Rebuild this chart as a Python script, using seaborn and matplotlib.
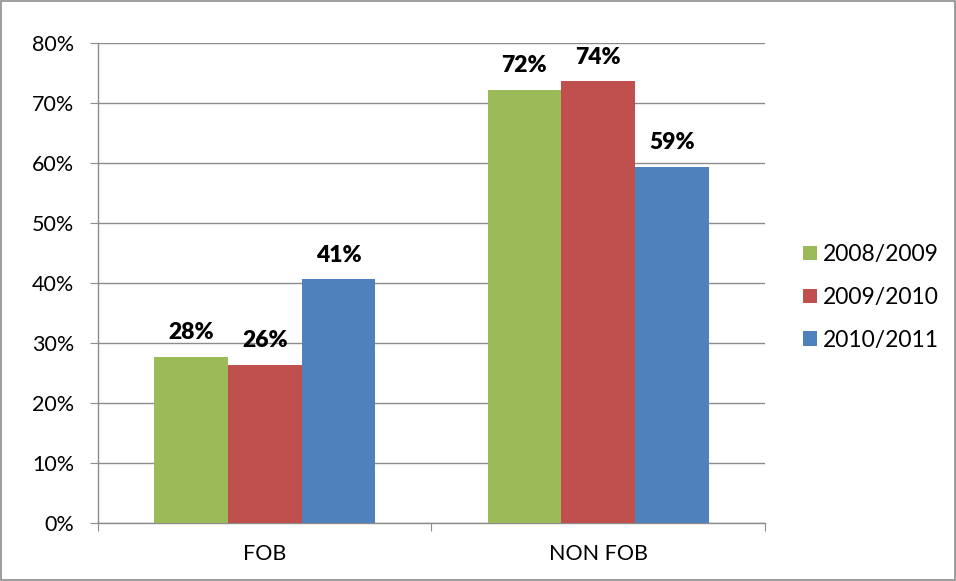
import pandas as pd
import seaborn as sns
import numpy as np
import matplotlib.pyplot as plt

# chart data
categories = ['FOB', 'NON FOB']
years = ['2008/2009', '2009/2010', '2010/2011']
fob_values = [0.277, 0.264, 0.406]
non_fob_values = [0.722, 0.736, 0.594]
bar_labels = [['28%', '26%', '41%'], ['72%', '74%', '59%']]
colors = ['#9BBB59', '#C0504D', '#4F81BD']

df = pd.DataFrame({
    'category': np.repeat(categories, len(years)),
    'year': years * len(categories),
    'value': fob_values + non_fob_values,
})

sns.set_style('white')
plt.rcParams['font.family'] = ['Lato', 'DejaVu Sans']
plt.rcParams['text.color'] = 'black'
plt.rcParams['xtick.labelcolor'] = 'black'
plt.rcParams['ytick.labelcolor'] = 'black'

fig = plt.figure(figsize=(9.56, 5.81), dpi=100)
ax = fig.add_axes([0.1025, 0.0998, 0.6977, 0.8262])

sns.barplot(data=df, x='category', y='value', hue='year', palette=colors,
            width=0.664, saturation=1, ax=ax, legend=True, zorder=3,
            linewidth=0, edgecolor='none')

#bar value labels
for i, cont in enumerate(ax.containers):
    labs = [bar_labels[j][i] for j in range(len(categories))]
    ax.bar_label(cont, labels=labs, padding=10, fontsize=16.5, fontweight='heavy',
                 color='black')

ax.set_ylim(0, 0.8)
ax.set_xlim(-0.5, 1.5)
ticks = np.arange(0, 0.81, 0.1)
ax.set_yticks(ticks)
ax.set_yticklabels([f'{int(round(v*100))}%' for v in ticks], fontsize=15.5)
ax.yaxis.grid(True, color='#8c8c8c', linewidth=1)
ax.set_axisbelow(True)

ax.set_xticks([-0.5, 0.5, 1.5])
ax.set_xticklabels([])
ax.set_xticks([0, 1], minor=True)
ax.set_xticklabels(categories, minor=True, fontsize=15.5)
ax.tick_params(axis='x', which='major', length=6, color='#8c8c8c', direction='out', bottom=True)
ax.tick_params(axis='x', which='minor', length=0, pad=15)
ax.tick_params(axis='y', length=6, color='#8c8c8c', direction='out', left=True, pad=11)

ax.set_xlabel('')
ax.set_ylabel('')
for side in ['top', 'right']:
    ax.spines[side].set_visible(False)
for side in ['left', 'bottom']:
    ax.spines[side].set_color('#8c8c8c')
    ax.spines[side].set_linewidth(1)

ax.legend(loc='center left', bbox_to_anchor=(1.057, 0.47), frameon=False,
          fontsize=16.5, handlelength=0.6, handleheight=0.6, labelspacing=0.95,
          handletextpad=0.25, borderpad=0, borderaxespad=0)

#outer border
fig.patches.append(plt.Rectangle((0.001, 0.001), 0.998, 0.998, transform=fig.transFigure,
                                 fill=False, edgecolor='#8c8c8c', linewidth=1.2))

plt.savefig('out.png', dpi=100)
